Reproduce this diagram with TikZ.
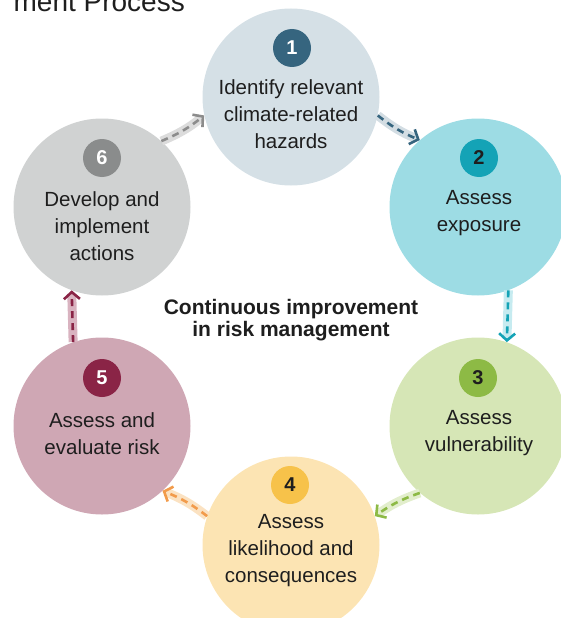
\documentclass[tikz,border=0pt]{standalone}
\usepackage{fontspec}
\setmainfont{Liberation Sans}
\usetikzlibrary{arrows.meta}

% stage fills, badge colours and connector colours
\definecolor{fillA}{HTML}{D5E0E6}
\definecolor{fillB}{HTML}{9DDCE4}
\definecolor{fillC}{HTML}{D6E6B6}
\definecolor{fillD}{HTML}{FCE4B3}
\definecolor{fillE}{HTML}{CFA7B4}
\definecolor{fillF}{HTML}{D0D2D2}
\definecolor{badgeA}{HTML}{36657F}
\definecolor{badgeB}{HTML}{14A3B6}
\definecolor{badgeC}{HTML}{8DBA45}
\definecolor{badgeD}{HTML}{F7C24A}
\definecolor{badgeE}{HTML}{8A2446}
\definecolor{badgeF}{HTML}{8A8C8C}
\definecolor{flowA}{HTML}{36657F}
\definecolor{flowB}{HTML}{14A3B6}
\definecolor{flowC}{HTML}{8DBA45}
\definecolor{flowD}{HTML}{F29B4B}
\definecolor{flowE}{HTML}{8A2446}
\definecolor{flowF}{HTML}{8C8C8C}
\definecolor{bandA}{HTML}{D3DDE3}
\definecolor{bandB}{HTML}{C6EBF0}
\definecolor{bandC}{HTML}{E2EECC}
\definecolor{bandD}{HTML}{FBE2C2}
\definecolor{bandE}{HTML}{D9B3C0}
\definecolor{bandF}{HTML}{DCDCDC}
\definecolor{ink}{HTML}{1E1E1E}

\begin{document}
\begin{tikzpicture}[x=1pt,y=-1pt,
  stage/.style={circle, minimum size=177pt, inner sep=0pt, fill=#1},
  badge/.style={circle, minimum size=38pt, inner sep=0pt, fill=#1,
    font=\fontsize{20}{20}\selectfont\bfseries},
  stagetext/.style={align=center, inner sep=0pt, text=ink,
    font=\fontsize{20.5}{27}\selectfont},
  flowband/.style={draw=#1, line width=9pt, shorten >=4pt},
  flowdash/.style={draw=#1, line width=2.6pt, dash pattern=on 7pt off 5pt,
    -{Straight Barb[length=7pt,width=16pt,line width=2.6pt]}},
]
\useasboundingbox (0,0) rectangle (561,618);
\clip (0,0) rectangle (561,618);

% heading
\node[anchor=base east, inner sep=0pt, text=ink, font=\fontsize{28}{28}\selectfont]
  (heading) at (185,12) {ment Process};

% stage discs
\node[stage=fillA] (s1) at (291,97) {};
\node[stage=fillB] (s2) at (478,207) {};
\node[stage=fillC] (s3) at (478,426) {};
\node[stage=fillD] (s4) at (291,545) {};
\node[stage=fillE] (s5) at (102,426) {};
\node[stage=fillF] (s6) at (102,207) {};

% numbered badges
\node[badge=badgeA, text=white] (b1) at (292,48) {1};
\node[badge=badgeB, text=ink] (b2) at (479,158) {2};
\node[badge=badgeC, text=ink] (b3) at (478,378) {3};
\node[badge=badgeD, text=ink] (b4) at (290,485) {4};
\node[badge=badgeE, text=white] (b5) at (102,378) {5};
\node[badge=badgeF, text=white] (b6) at (102,158) {6};

% stage captions
\node[stagetext] (t1) at (291,114) {Identify relevant\\climate-related\\hazards};
\node[stagetext] (t2) at (479,213.5) {Assess\\exposure};
\node[stagetext] (t3) at (479,433.5) {Assess\\vulnerability};
\node[stagetext] (t4) at (291,551) {Assess\\likelihood and\\consequences};
\node[stagetext] (t5) at (102,433.5) {Assess and\\evaluate risk};
\node[stagetext] (t6) at (102,226) {Develop and\\implement\\actions};

% centre caption
\node[align=center, inner sep=0pt, text=ink, font=\fontsize{21}{22.5}\selectfont\bfseries]
  (hub) at (291,320) {Continuous improvement\\in risk management};

% connectors between stages
\draw[flowband=bandA] (s1.-12.5) to[bend right=8] (s2.131);
\draw[flowdash=flowA] (s1.-12.5) to[bend right=8] (s2.131);
\draw[flowband=bandB] (s2.-70) to (s3.71);
\draw[flowdash=flowB] (s2.-70) to (s3.71);
\draw[flowband=bandC] (s3.-131) to[bend right=8] (s4.19);
\draw[flowdash=flowC] (s3.-131) to[bend right=8] (s4.19);
\draw[flowband=bandD] (s4.161) to[bend right=8] (s5.-47);
\draw[flowdash=flowD] (s4.161) to[bend right=8] (s5.-47);
\draw[flowband=bandE] (s5.109) to (s6.-110);
\draw[flowdash=flowE] (s5.109) to (s6.-110);
\draw[flowband=bandF] (s6.48.5) to[bend right=8] (s1.192);
\draw[flowdash=flowF] (s6.48.5) to[bend right=8] (s1.192);
\end{tikzpicture}
\end{document}
